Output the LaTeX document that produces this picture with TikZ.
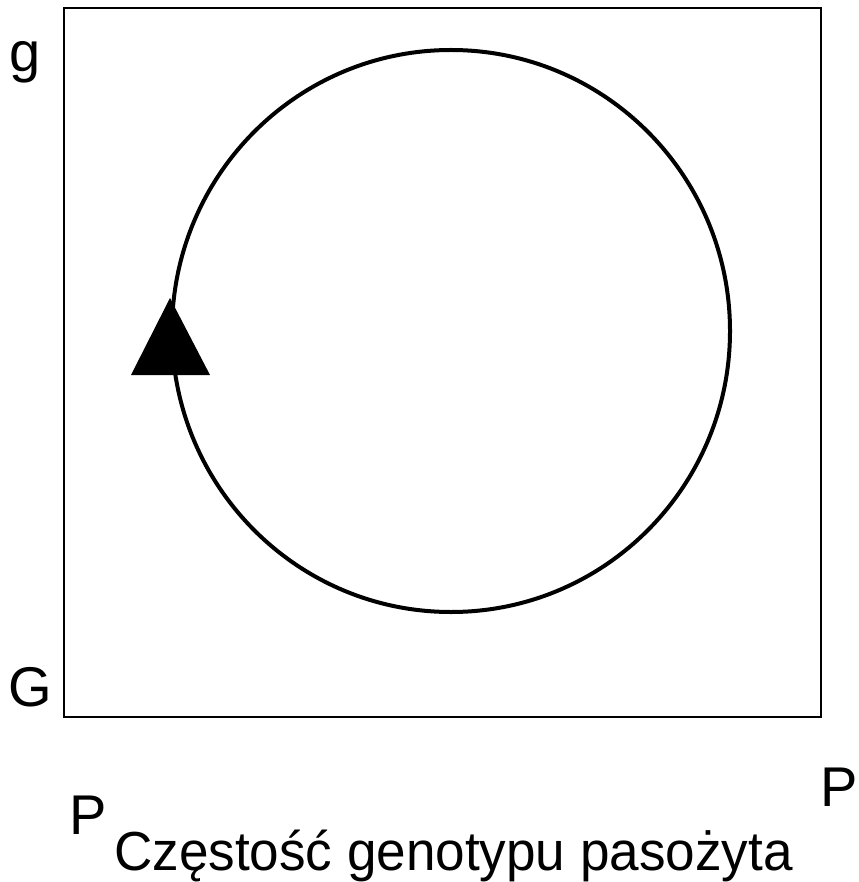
\documentclass[tikz,border=0pt]{standalone}
\usepackage{fontspec}
\setmainfont{Liberation Sans}
\begin{document}
\begin{tikzpicture}[x=1pt,y=-1pt,
  lbl/.style={inner sep=0pt,anchor=base west,font=\fontsize{56}{62}\selectfont}]
\useasboundingbox (0,0) rectangle (858,882);
\draw[line width=1.5pt] (64,8) rectangle (821,717);
\draw[line width=4pt] (451,331) ellipse [x radius=279, y radius=281];
\fill (170,298) -- (210,375) -- (131,375) -- cycle;
\node[lbl] (g) at (9,72) {g};
\node[lbl] (G) at (8,706) {G};
\node[lbl] (P1) at (69,834) {P};
\node[lbl] (P2) at (820,806) {P};
\node[lbl,font=\fontsize{55}{62}\selectfont] (t) at (114,870) {\scalebox{0.965}[1]{Częstość genotypu pasożyta}};
\end{tikzpicture}
\end{document}
